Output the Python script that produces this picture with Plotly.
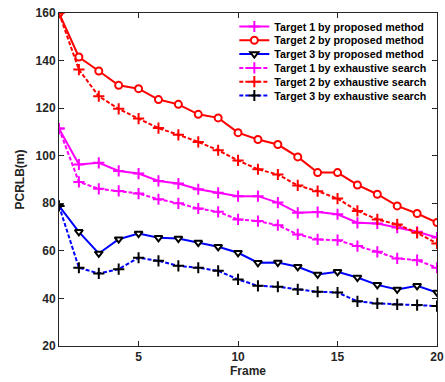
import plotly.graph_objects as go

frames = list(range(1, 21))
t1_prop = [111.4, 96.3, 97.0, 93.6, 92.5, 89.4, 88.3, 85.9, 84.4, 83.0, 83.0, 80.3, 76.0, 76.3, 75.4, 71.8, 71.5, 69.8, 68.0, 65.6]
t2_prop = [160.0, 141.5, 135.6, 129.6, 128.2, 123.6, 121.6, 117.4, 115.9, 109.7, 106.8, 104.7, 99.5, 92.9, 92.9, 87.7, 83.8, 78.9, 75.7, 71.9]
t3_prop = [78.9, 68.0, 58.9, 64.9, 67.3, 65.5, 65.2, 63.5, 61.7, 59.2, 55.0, 55.1, 53.3, 50.1, 51.2, 48.8, 45.7, 43.8, 45.3, 42.5]
t1_exh = [111.4, 89.0, 86.1, 85.2, 84.1, 81.7, 80.0, 77.8, 76.4, 73.2, 72.5, 70.8, 66.9, 64.8, 64.5, 62.0, 59.6, 56.8, 56.1, 52.9]
t2_exh = [160.0, 136.2, 125.0, 119.7, 115.6, 111.6, 108.8, 105.8, 102.3, 98.0, 94.3, 92.1, 87.5, 85.1, 82.0, 76.8, 73.2, 71.1, 67.6, 63.1]
t3_exh = [78.9, 52.9, 50.5, 52.3, 57.1, 55.8, 53.7, 52.9, 51.6, 48.0, 45.3, 44.9, 43.8, 42.8, 42.5, 38.8, 37.9, 37.5, 37.2, 36.8]

names = ["Target 1 by proposed method", "Target 2 by proposed method", "Target 3 by proposed method",
         "Target 1 by exhaustive search", "Target 2 by exhaustive search", "Target 3 by exhaustive search"]

DASH = "4px,2px"
MS = 7
fig = go.Figure()
fig.add_trace(go.Scatter(x=frames, y=t1_prop, name=names[0], mode="lines+markers",
    line=dict(color="#FF00FF", width=2),
    marker=dict(symbol="cross-thin", size=MS + 1, line=dict(color="#FF00FF", width=2))))
fig.add_trace(go.Scatter(x=frames, y=t2_prop, name=names[1], mode="lines+markers",
    line=dict(color="#FF0000", width=2),
    marker=dict(symbol="circle", size=MS, color="white", line=dict(color="#FF0000", width=2))))
fig.add_trace(go.Scatter(x=frames, y=t3_prop, name=names[2], mode="lines+markers",
    line=dict(color="#0000FF", width=2),
    marker=dict(symbol="triangle-down", size=MS, color="white", line=dict(color="black", width=2))))
fig.add_trace(go.Scatter(x=frames, y=t1_exh, name=names[3], mode="lines+markers",
    line=dict(color="#FF00FF", width=2, dash=DASH),
    marker=dict(symbol="cross-thin", size=MS + 1, line=dict(color="#FF00FF", width=2))))
fig.add_trace(go.Scatter(x=frames, y=t2_exh, name=names[4], mode="lines+markers",
    line=dict(color="#FF0000", width=2, dash=DASH),
    marker=dict(symbol="cross-thin", size=MS + 1, line=dict(color="#FF0000", width=2))))
fig.add_trace(go.Scatter(x=frames, y=t3_exh, name=names[5], mode="lines+markers",
    line=dict(color="#0000FF", width=2, dash=DASH),
    marker=dict(symbol="cross-thin", size=MS + 1, line=dict(color="black", width=2))))

axis_common = dict(showline=True, linecolor="#262626", linewidth=1, mirror="ticks",
                   ticks="inside", ticklen=5, tickcolor="#262626", showgrid=False, zeroline=False,
                   automargin=False,
                   tickfont=dict(family="Liberation Sans", size=12, color="#262626", weight="bold"))

fig.update_layout(
    width=445, height=382, autosize=False,
    margin=dict(l=59, r=8, t=13, b=36, autoexpand=False),
    paper_bgcolor="white", plot_bgcolor="white",
    font=dict(family="Liberation Sans", color="#262626"),
    xaxis=dict(range=[1, 20], tickvals=[5, 10, 15, 20],
               title=dict(text="<b>Frame</b>", font=dict(size=12, color="#262626"), standoff=2),
               **axis_common),
    yaxis=dict(range=[20, 160], tickvals=[20, 40, 60, 80, 100, 120, 140, 160],
               title=dict(text="<b>PCRLB(m)</b>", font=dict(size=12, color="#262626"), standoff=8),
               **axis_common),
    legend=dict(x=0.985, y=0.997, xanchor="right", yanchor="top", bgcolor="rgba(0,0,0,0)",
                borderwidth=0, font=dict(family="Liberation Sans", size=10.7, color="black", weight="bold"),
                tracegroupgap=0, itemsizing="trace"),
    showlegend=True,
)

post = """
document.documentElement.style.overflow = 'hidden';
document.body.style.overflow = 'hidden';
document.body.style.margin = '0';
var gd = document.getElementById('{plot_id}');
var items = gd.querySelectorAll('g.legend g.traces');
var y0 = null;
items.forEach(function(el, i){
  var t = el.getAttribute('transform') || 'translate(0,0)';
  var m = /translate\\(\\s*([-\\d.e]+)[,\\s]+([-\\d.e]+)\\s*\\)/.exec(t);
  if (!m) return;
  if (y0 === null) y0 = parseFloat(m[2]) - 2;
  el.setAttribute('transform', 'translate(' + m[1] + ',' + (y0 + i * 13.8) + ')');
});
"""
fig.write_html("out.html", post_script=post, config={"displayModeBar": False})
